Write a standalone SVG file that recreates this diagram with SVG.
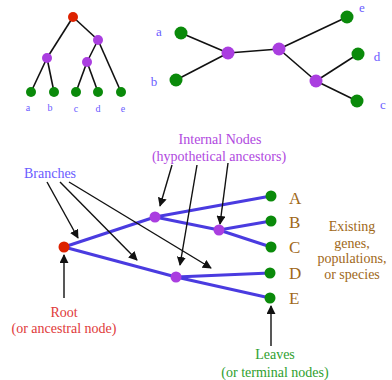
<svg xmlns="http://www.w3.org/2000/svg" width="392" height="380" viewBox="0 0 392 380">
<style>
text{font-family:"Liberation Serif","Times New Roman",serif;}
.k{stroke:#111;stroke-width:1.6;fill:none}
.b{stroke:#4a3be0;stroke-width:3;fill:none}
.a{stroke:#111;stroke-width:1.4;fill:none;marker-end:url(#ah)}
.g{fill:#0a8a0a}
.p{fill:#aa3ee0}
.r{fill:#dd2200}
.sm{font-size:10px;fill:#6a5cff;text-anchor:middle}
.md{font-size:13px;fill:#6a5cff;text-anchor:middle}
.lf{font-size:17px;fill:#a06818}
.ex{font-size:14px;fill:#a06818;text-anchor:middle}
.in{font-size:14px;fill:#b048e0;text-anchor:middle}
</style>
<defs>
<marker id="ah" viewBox="0 0 10 10" refX="9" refY="5" markerWidth="9" markerHeight="9" markerUnits="userSpaceOnUse" orient="auto">
<path d="M0,0 L10,5 L0,10 z" fill="#111"/>
</marker>
</defs>
<rect width="392" height="380" fill="#fff"/>
<g id="connectors">
<g id="tree1-edges">
<line class="k" x1="73" y1="17" x2="47" y2="58"/>
<line class="k" x1="73" y1="17" x2="98" y2="40"/>
<line class="k" x1="47" y1="58" x2="31" y2="92"/>
<line class="k" x1="47" y1="58" x2="54" y2="92"/>
<line class="k" x1="98" y1="40" x2="87" y2="62"/>
<line class="k" x1="98" y1="40" x2="121" y2="92"/>
<line class="k" x1="87" y1="62" x2="76" y2="92"/>
<line class="k" x1="87" y1="62" x2="98" y2="92"/>
</g>
<g id="tree2-edges">
<line class="k" x1="181" y1="33" x2="228" y2="53"/>
<line class="k" x1="176" y1="80" x2="228" y2="53"/>
<line class="k" x1="228" y1="53" x2="279" y2="49"/>
<line class="k" x1="279" y1="49" x2="347" y2="17"/>
<line class="k" x1="279" y1="49" x2="316" y2="81"/>
<line class="k" x1="316" y1="81" x2="358" y2="54"/>
<line class="k" x1="316" y1="81" x2="357" y2="101"/>
</g>
<g id="tree3-edges">
<line class="b" x1="64" y1="247" x2="155" y2="217"/>
<line class="b" x1="64" y1="247" x2="176" y2="277"/>
<line class="b" x1="155" y1="217" x2="271" y2="196"/>
<line class="b" x1="155" y1="217" x2="219" y2="230"/>
<line class="b" x1="219" y1="230" x2="271" y2="221"/>
<line class="b" x1="219" y1="230" x2="271" y2="247"/>
<line class="b" x1="176" y1="277" x2="270" y2="273"/>
<line class="b" x1="176" y1="277" x2="270" y2="298"/>
</g>
<g id="arrows">
<line class="a" x1="47" y1="182" x2="78" y2="238"/>
<line class="a" x1="60" y1="182" x2="137" y2="260"/>
<line class="a" x1="69" y1="182" x2="211" y2="268"/>
<line class="a" x1="172" y1="165" x2="160" y2="206"/>
<line class="a" x1="197" y1="165" x2="180" y2="265"/>
<line class="a" x1="228" y1="163" x2="220" y2="224"/>
<line class="a" x1="64" y1="298" x2="64" y2="255"/>
<line class="a" x1="271" y1="346" x2="271" y2="306"/>
</g>
</g>
<g id="tree1-nodes">
<circle id="t1-root" class="r" cx="73" cy="17" r="5"/>
<circle id="t1-n1" class="p" cx="98" cy="40" r="5"/>
<circle id="t1-n2" class="p" cx="47" cy="58" r="5"/>
<circle id="t1-n3" class="p" cx="87" cy="62" r="5"/>
<circle id="t1-a" class="g" cx="31" cy="92" r="5"/>
<circle id="t1-b" class="g" cx="54" cy="92" r="5"/>
<circle id="t1-c" class="g" cx="76" cy="92" r="5"/>
<circle id="t1-d" class="g" cx="98" cy="92" r="5"/>
<circle id="t1-e" class="g" cx="121" cy="92" r="5"/>
<text class="sm" x="28" y="111">a</text>
<text class="sm" x="50" y="111">b</text>
<text class="sm" x="76" y="112">c</text>
<text class="sm" x="98" y="112">d</text>
<text class="sm" x="123" y="112">e</text>
</g>
<g id="tree2-nodes">
<circle id="t2-a" class="g" cx="181" cy="33" r="6.5"/>
<circle id="t2-b" class="g" cx="176" cy="80" r="6.5"/>
<circle id="t2-n1" class="p" cx="228" cy="53" r="6.5"/>
<circle id="t2-n2" class="p" cx="279" cy="49" r="6.5"/>
<circle id="t2-n3" class="p" cx="316" cy="81" r="6.5"/>
<circle id="t2-e" class="g" cx="347" cy="17" r="6.5"/>
<circle id="t2-d" class="g" cx="358" cy="54" r="6.5"/>
<circle id="t2-c" class="g" cx="357" cy="101" r="6.5"/>
<text class="md" x="159" y="36">a</text>
<text class="md" x="154" y="86">b</text>
<text class="md" x="362" y="12">e</text>
<text class="md" x="377" y="61">d</text>
<text class="md" x="383" y="109">c</text>
</g>
<g id="tree3-nodes">
<circle id="root" class="r" cx="64" cy="247" r="5.5"/>
<circle id="int1" class="p" cx="155" cy="217" r="5.5"/>
<circle id="int2" class="p" cx="219" cy="230" r="5.5"/>
<circle id="int3" class="p" cx="176" cy="277" r="5.5"/>
<circle id="leafA" class="g" cx="271" cy="196" r="5.5"/>
<circle id="leafB" class="g" cx="271" cy="221" r="5.5"/>
<circle id="leafC" class="g" cx="271" cy="247" r="5.5"/>
<circle id="leafD" class="g" cx="270" cy="273" r="5.5"/>
<circle id="leafE" class="g" cx="270" cy="298" r="5.5"/>
<text class="lf" x="289" y="204">A</text>
<text class="lf" x="289" y="228">B</text>
<text class="lf" x="289" y="253">C</text>
<text class="lf" x="289" y="279">D</text>
<text class="lf" x="289" y="304">E</text>
</g>
<g id="label-existing">
<text class="ex" x="352" y="231">Existing</text>
<text class="ex" x="352" y="248">genes,</text>
<text class="ex" x="352" y="263">populations,</text>
<text class="ex" x="352" y="279">or species</text>
</g>
<g id="label-internal">
<text class="in" x="220" y="144">Internal Nodes</text>
<text class="in" x="219" y="161">(hypothetical ancestors)</text>
</g>
<g id="label-branches">
<text x="50" y="178" style="font-size:14px;fill:#6a5cff;text-anchor:middle">Branches</text>
</g>
<g id="label-root">
<text x="64" y="317" style="font-size:14px;fill:#e03a3a;text-anchor:middle">Root</text>
<text x="64" y="333" style="font-size:14px;fill:#e03a3a;text-anchor:middle">(or ancestral node)</text>
</g>
<g id="label-leaves">
<text x="275" y="359" style="font-size:14px;fill:#2ea02e;text-anchor:middle">Leaves</text>
<text x="275" y="377" style="font-size:14px;fill:#2ea02e;text-anchor:middle">(or terminal nodes)</text>
</g>
</svg>
